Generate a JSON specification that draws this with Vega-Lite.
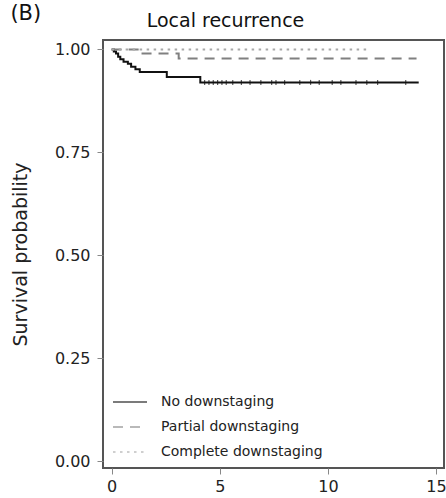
{
  "$schema": "https://vega.github.io/schema/vega-lite/v6.json",
  "background": "white",
  "padding": {"left": 10, "top": 3, "right": 2, "bottom": 0},
  "title": {"text": "(B)", "anchor": "start", "fontSize": 21, "font": "DejaVu Sans", "fontWeight": "normal", "color": "#111", "dy": -1, "offset": -14, "frame": "bounds"},
  "resolve": {"scale": {"color": "independent", "strokeDash": "independent"}, "legend": {"color": "independent", "strokeDash": "independent"}},
  "config": {
    "font": "DejaVu Sans",
    "view": {"stroke": "#555", "strokeWidth": 2},
    "axis": {"domain": false, "grid": false, "tickColor": "#888", "tickSize": 6, "labelColor": "#222", "labelFont": "DejaVu Sans", "titleFont": "DejaVu Sans", "titleFontWeight": "normal", "titleColor": "#222"},
    "legend": {"labelFont": "DejaVu Sans"}
  },
  "datasets": {
    "curves": [
      {"group": "No downstaging", "t": 0, "s": 1.0},
      {"group": "No downstaging", "t": 0.1, "s": 0.995},
      {"group": "No downstaging", "t": 0.2, "s": 0.99},
      {"group": "No downstaging", "t": 0.3, "s": 0.982},
      {"group": "No downstaging", "t": 0.4, "s": 0.976},
      {"group": "No downstaging", "t": 0.55, "s": 0.97},
      {"group": "No downstaging", "t": 0.75, "s": 0.965},
      {"group": "No downstaging", "t": 0.9, "s": 0.958},
      {"group": "No downstaging", "t": 1.1, "s": 0.952},
      {"group": "No downstaging", "t": 1.3, "s": 0.945},
      {"group": "No downstaging", "t": 2.55, "s": 0.933},
      {"group": "No downstaging", "t": 4.1, "s": 0.92},
      {"group": "No downstaging", "t": 14.2, "s": 0.92},
      {"group": "Partial downstaging", "t": 0, "s": 1.0},
      {"group": "Partial downstaging", "t": 1.35, "s": 0.99},
      {"group": "Partial downstaging", "t": 3.1, "s": 0.978},
      {"group": "Partial downstaging", "t": 14.1, "s": 0.978},
      {"group": "Complete downstaging", "t": 0, "s": 1.0},
      {"group": "Complete downstaging", "t": 11.8, "s": 1.0}
    ],
    "censor": [
      {"t": 4.3, "s": 0.92}, {"t": 4.5, "s": 0.92}, {"t": 4.7, "s": 0.92}, {"t": 4.9, "s": 0.92},
      {"t": 5.1, "s": 0.92}, {"t": 5.3, "s": 0.92}, {"t": 5.6, "s": 0.92}, {"t": 6.0, "s": 0.92},
      {"t": 6.4, "s": 0.92}, {"t": 6.9, "s": 0.92}, {"t": 7.4, "s": 0.92}, {"t": 7.6, "s": 0.92},
      {"t": 8.0, "s": 0.92}, {"t": 8.7, "s": 0.92}, {"t": 9.2, "s": 0.92}, {"t": 9.6, "s": 0.92},
      {"t": 10.2, "s": 0.92}, {"t": 10.6, "s": 0.92}, {"t": 11.3, "s": 0.92}, {"t": 11.8, "s": 0.92},
      {"t": 12.3, "s": 0.92}, {"t": 13.6, "s": 0.92}
    ]
  },
  "vconcat": [
    {
      "width": 341,
      "height": 428,
      "title": {"text": "Local recurrence", "fontSize": 19, "fontWeight": "normal", "font": "DejaVu Sans", "color": "#111", "offset": 9, "dx": -48},
      "layer": [
        {
          "data": {"name": "curves"},
          "mark": {"type": "line", "interpolate": "step-after", "strokeWidth": 2},
          "encoding": {
            "x": {"field": "t", "type": "quantitative", "scale": {"domain": [-0.4, 15.37], "nice": false, "zero": false}, "axis": {"values": [0, 5, 10, 15], "title": null, "labelFontSize": 16, "labelPadding": 4}},
            "y": {"field": "s", "type": "quantitative", "scale": {"domain": [-0.017, 1.023], "nice": false, "zero": false}, "axis": {"values": [0, 0.25, 0.5, 0.75, 1], "format": ".2f", "title": "Survival probability", "titleFontSize": 19, "titlePadding": 24, "labelFontSize": 16, "labelPadding": 7}},
            "color": {"field": "group", "type": "nominal", "scale": {"domain": ["No downstaging", "Partial downstaging", "Complete downstaging"], "range": ["#111111", "#808080", "#a8a8a8"]}, "legend": {"title": null, "orient": "bottom-left", "offset": 9, "labelFontSize": 14, "labelColor": "#222", "labelLimit": 0, "symbolType": "stroke", "symbolSize": 1156, "symbolStrokeWidth": 2, "symbolOpacity": 0.55, "rowPadding": 0, "labelOffset": 13}},
            "strokeDash": {"field": "group", "type": "nominal", "scale": {"domain": ["No downstaging", "Partial downstaging", "Complete downstaging"], "range": [[1, 0], [10, 7], [2.5, 4.5]]}, "legend": {"title": null, "orient": "bottom-left", "offset": 9, "labelFontSize": 14, "labelColor": "#222", "labelLimit": 0, "symbolType": "stroke", "symbolSize": 1156, "symbolStrokeWidth": 2, "symbolOpacity": 0.55, "rowPadding": 0, "labelOffset": 13}}
          }
        },
        {
          "data": {"name": "censor"},
          "mark": {"type": "tick", "orient": "vertical", "size": 5, "thickness": 1.2, "color": "#111"},
          "encoding": {
            "x": {"field": "t", "type": "quantitative"},
            "y": {"field": "s", "type": "quantitative"}
          }
        }
      ]
    }
  ]
}
